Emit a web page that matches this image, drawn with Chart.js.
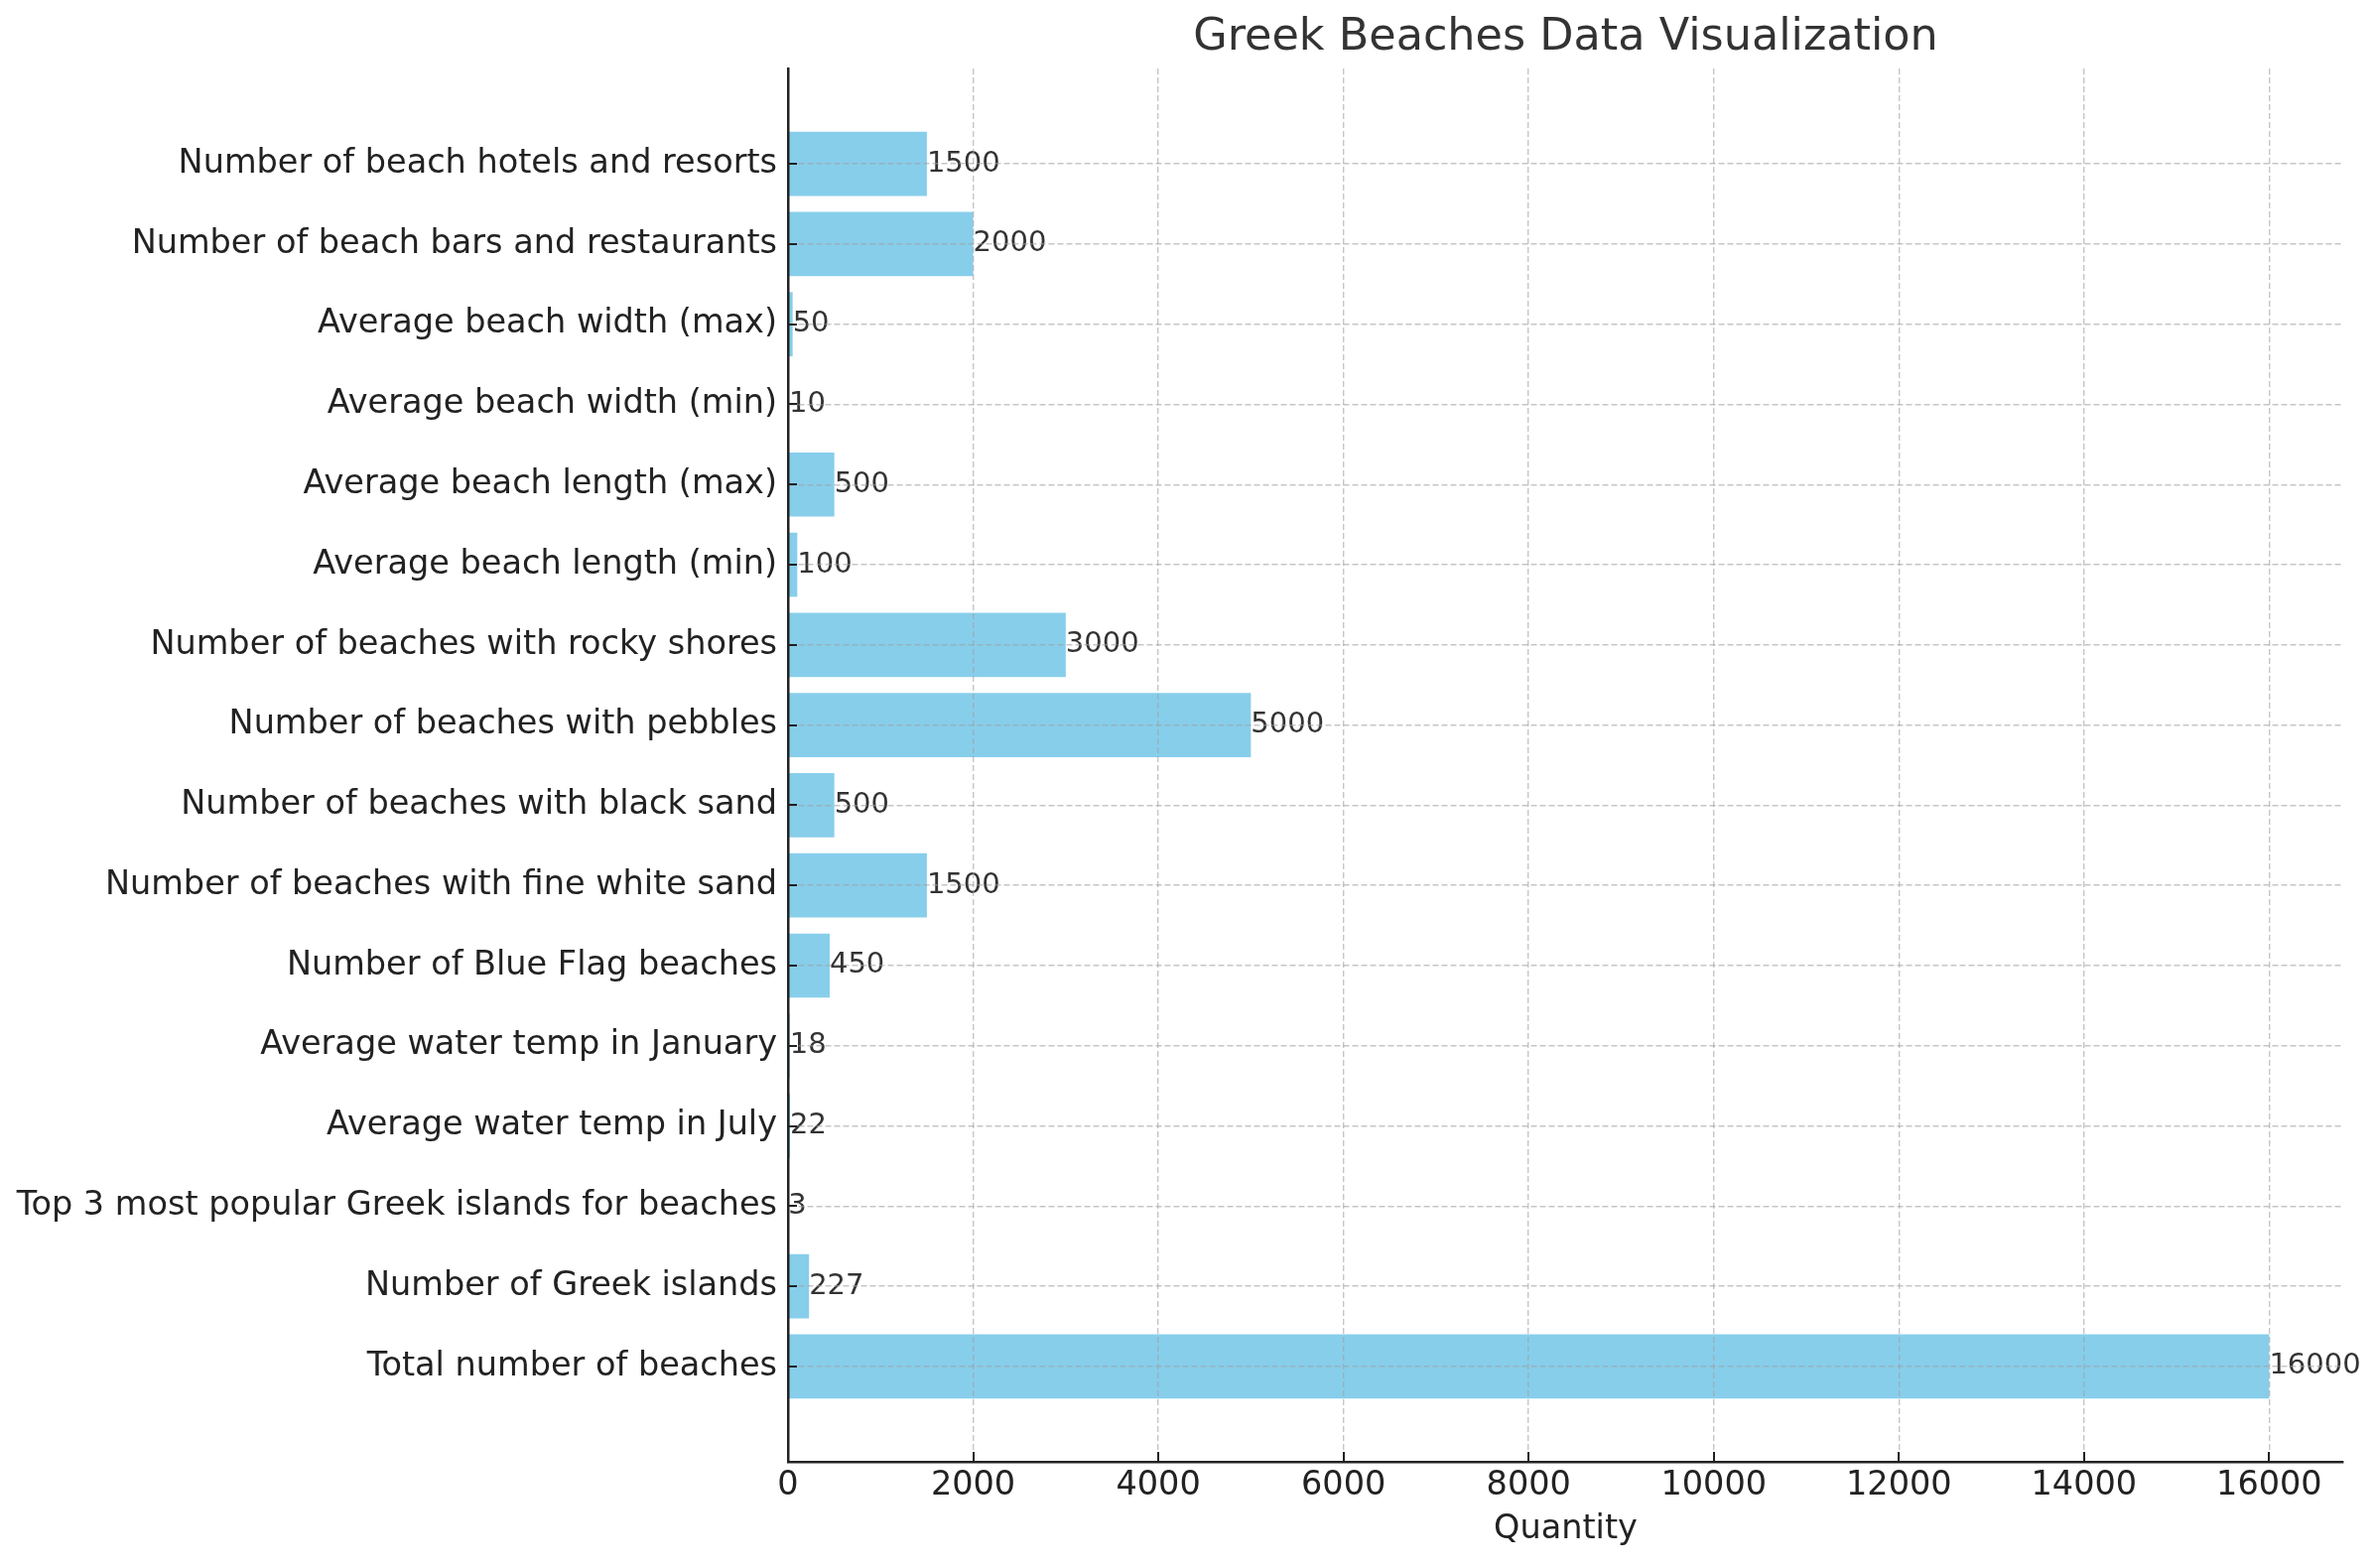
<!DOCTYPE html>
<html>
<head>
<meta charset="utf-8">
<script src="https://cdn.jsdelivr.net/npm/chart.js@4.4.1/dist/chart.umd.min.js"></script>
<style>
  html, body { margin: 0; padding: 0; background: #fff; }
  #wrap { width: 2393px; height: 1580px; }
</style>
</head>
<body>
<div id="wrap"><canvas id="grafico"></canvas></div>
<script>
// categorias, de abajo hacia arriba
const categorias = [
  'Total number of beaches',
  'Number of Greek islands',
  'Top 3 most popular Greek islands for beaches',
  'Average water temp in July',
  'Average water temp in January',
  'Number of Blue Flag beaches',
  'Number of beaches with fine white sand',
  'Number of beaches with black sand',
  'Number of beaches with pebbles',
  'Number of beaches with rocky shores',
  'Average beach length (min)',
  'Average beach length (max)',
  'Average beach width (min)',
  'Average beach width (max)',
  'Number of beach bars and restaurants',
  'Number of beach hotels and resorts'
];
const cantidades = [16000, 227, 3, 22, 18, 450, 1500, 500, 5000, 3000, 100, 500, 10, 50, 2000, 1500];
const ticksX = [0, 2000, 4000, 6000, 8000, 10000, 12000, 14000, 16000];

const fuente = 'DejaVu Sans';
const colorGrilla = 'rgba(160,160,160,0.6)';

// marcas de los ejes hacia adentro + etiquetas de valor
const extras = {
  id: 'extras',
  afterDatasetsDraw(chart) {
    const ctx = chart.ctx;
    const meta = chart.getDatasetMeta(0);
    ctx.save();
    ctx.font = '29px "' + fuente + '"';
    ctx.fillStyle = '#333333';
    ctx.textAlign = 'left';
    ctx.textBaseline = 'middle';
    meta.data.forEach((bar, i) => {
      ctx.fillText(String(cantidades[i]), bar.x, bar.y);
    });
    ctx.restore();
  },
  afterDraw(chart) {
    const ctx = chart.ctx;
    const area = chart.chartArea;
    const x = chart.scales.x, y = chart.scales.y;
    ctx.save();
    ctx.strokeStyle = '#222222';
    ctx.lineWidth = 2;
    ticksX.forEach(v => {
      const px = Math.round(x.getPixelForValue(v));
      ctx.beginPath();
      ctx.moveTo(px, area.bottom);
      ctx.lineTo(px, area.bottom - 10);
      ctx.stroke();
    });
    categorias.forEach((c, i) => {
      const py = Math.round(y.getPixelForValue(i));
      ctx.beginPath();
      ctx.moveTo(area.left, py);
      ctx.lineTo(area.left + 9, py);
      ctx.stroke();
    });
    ctx.restore();
  }
};

new Chart(document.getElementById('grafico'), {
  type: 'bar',
  data: {
    labels: categorias,
    datasets: [{
      label: 'Quantity',
      data: cantidades.map((v, i) => ({ x: v, y: i })),
      backgroundColor: '#87CEEB',
      categoryPercentage: 1,
      barPercentage: 0.8
    }]
  },
  options: {
    indexAxis: 'y',
    responsive: true,
    maintainAspectRatio: false,
    animation: false,
    layout: { padding: { left: 0, right: 32, top: 0, bottom: 0 } },
    plugins: {
      legend: { display: false },
      tooltip: { enabled: false },
      title: {
        display: true,
        fullSize: false,
        text: 'Greek Beaches Data Visualization',
        color: '#333333',
        font: { family: fuente, size: 44.5, weight: 'normal' },
        padding: { top: 12, bottom: 3.6 }
      }
    },
    scales: {
      x: {
        type: 'linear',
        min: 0,
        max: 16800,
        offset: false,
        afterFit: s => { s.height = 107; },
        afterBuildTicks: s => { s.ticks = ticksX.map(v => ({ value: v })); },
        ticks: {
          includeBounds: false,
          autoSkip: false,
          maxRotation: 0,
          padding: 4,
          color: '#222222',
          font: { family: fuente, size: 33.5 },
          callback: v => String(v)
        },
        grid: { color: colorGrilla, lineWidth: 1.4, drawTicks: false, offset: false, z: 1 },
        border: { display: true, color: '#222222', width: 2.5, dash: [6, 3], z: 2 },
        title: {
          display: true,
          text: 'Quantity',
          color: '#222222',
          font: { family: fuente, size: 33.5 },
          padding: { top: 0, bottom: 19 }
        }
      },
      y: {
        type: 'linear',
        min: -1.19,
        max: 16.19,
        offset: false,
        afterFit: s => { s.width = 794; },
        afterBuildTicks: s => { s.ticks = categorias.map((c, i) => ({ value: i })); },
        ticks: {
          autoSkip: false,
          padding: 11,
          color: '#222222',
          font: { family: fuente, size: 33.5 },
          callback: v => categorias[v]
        },
        grid: { color: colorGrilla, lineWidth: 1.4, drawTicks: false, offset: false, z: 1 },
        border: { display: true, color: '#222222', width: 2.5, dash: [6, 3], z: 2 }
      }
    }
  },
  plugins: [extras]
});
</script>
</body>
</html>
